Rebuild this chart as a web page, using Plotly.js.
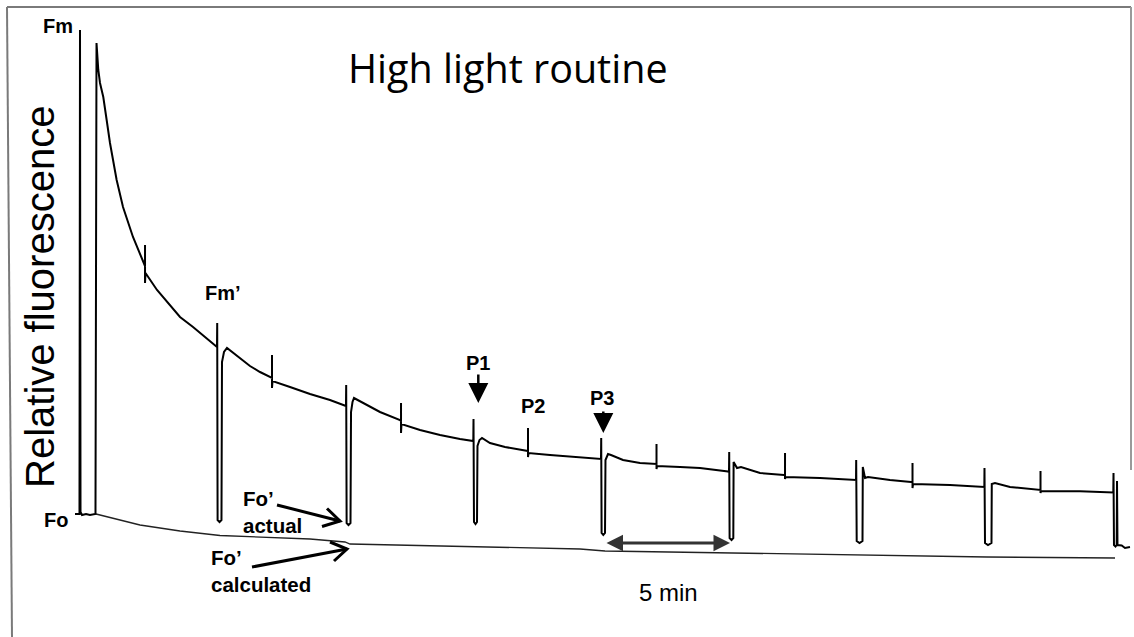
<!DOCTYPE html>
<html>
<head>
<meta charset="utf-8">
<script src="https://cdn.plot.ly/plotly-3.0.1.min.js"></script>
<style>html,body{margin:0;padding:0;background:#fff;}#chart{width:1134px;height:637px;}</style>
</head>
<body>
<div id="chart"></div>
<script>
// Fluorescence trace: time (s) and relative fluorescence (arbitrary units)
const traceTime = [
  -32.8, -22.3, -21.1, -19.9, -16.4, -7.0, 2.3, 15.2, 17.6, 21.8, 25.8, 33.5, 41.4, 49.2, 64.8, 79.7, 103.1, 126.6, 131.3, 131.3, 131.3, 132.4, 159.4, 189.8, 213.3, 243.8, 271.9, 297.7,
  300.0, 300.5, 301.4, 305.9, 310.5, 311.7, 316.4, 323.4,
  353.9, 377.3, 400.8, 426.6, 428.9, 428.9, 428.9, 430.1, 471.1, 518.0, 564.8, 600.0,
  602.3, 602.8, 603.8, 608.2, 612.9, 614.1, 617.6, 621.1,
  646.9, 682.0, 728.9, 731.3, 731.3, 731.3, 732.4, 775.8, 822.7, 869.5, 900.0,
  900.7, 901.2, 902.3, 905.9, 909.4, 910.5, 915.2, 921.1,
  939.8, 975.0, 1026.6, 1028.9, 1028.9, 1028.9, 1030.1, 1080.5, 1139.1, 1197.7,
  1200.0, 1200.5, 1201.4, 1205.4, 1209.4, 1210.5, 1216.4, 1223.4,
  1251.6, 1291.4, 1328.9, 1330.1, 1330.1, 1330.1, 1331.3, 1385.2, 1432.0, 1497.7,
  1500.0, 1500.5, 1501.4, 1505.9, 1510.1, 1510.8, 1518.8, 1528.1,
  1572.7, 1628.9, 1631.3, 1631.3, 1631.3, 1632.4, 1713.3, 1795.3,
  1797.7, 1798.1, 1799.3, 1805.9, 1812.9, 1813.6, 1818.8, 1825.8,
  1877.3, 1926.6, 1930.1, 1930.1, 1930.1, 1931.3, 2018.0, 2096.5,
  2098.4, 2098.8, 2100.0, 2107.0, 2115.2, 2115.9, 2123.4,
  2158.6, 2228.9, 2230.1, 2230.1, 2230.1, 2231.3, 2322.7, 2398.8,
  2400.7, 2401.2, 2402.3, 2405.9, 2408.7, 2409.4, 2410.5, 2420.4, 2428.1, 2439.8
];
const traceSignal = [
  86, 86, 570, 88, 85, 86, 85, 86, 557, 530, 517, 503, 480, 457, 420, 393, 363, 338, 334, 355, 317, 327, 310, 295, 283, 273, 263, 254,
  253, 277, 80, 78, 80, 238, 248, 252,
  242, 234, 228, 223, 222, 245, 212, 219, 213, 206, 200, 195,
  194, 215, 77, 75, 77, 188, 198, 202,
  196, 188, 180, 179, 197, 167, 176, 170, 165, 161, 159,
  159, 181, 78, 76, 78, 154, 160, 162,
  157, 153, 149, 149, 172, 143, 147, 145, 143, 141,
  141, 162, 67, 65, 67, 140, 146, 145,
  140, 137, 136, 136, 156, 131, 134, 133, 132, 128.5,
  128, 148, 62, 60, 62, 138, 132, 133,
  127, 125, 125, 147, 121, 123, 122, 120,
  120, 140, 59, 57, 59, 133, 122, 123,
  120, 118, 118, 137, 112, 116, 115, 113,
  113, 132, 57, 55, 57, 116, 117,
  113, 110, 110, 129, 107, 109, 108.7, 107.7,
  107.5, 127, 55, 53.5, 55, 119, 55, 54.5, 52, 53
];
// Calculated Fo' baseline
const calcTime = [16.4, 119.5, 213.3, 307.0, 518.0, 600.0, 611.7, 775.8, 916.4, 1150.8, 1209.4, 1502.3, 1760.2, 2104.7, 2404.7];
const calcSignal = [86, 75, 69, 64.5, 61, 58, 56, 54.5, 53, 51, 49, 47, 45, 43, 42];

const titleText = "High light routine";
const yLabel = "Relative fluorescence";

const W = 1134, H = 637;
const fx = x => x / W;
const fy = y => 1 - y / H;
const F = "Liberation Sans, Arial, sans-serif";

function txt(t, x, y, size, opts) {
  return Object.assign({
    text: t, xref: 'paper', yref: 'paper', x: fx(x), y: fy(y),
    xanchor: 'center', yanchor: 'middle', showarrow: false,
    font: {family: F, size: size, color: '#000'}
  }, opts || {});
}
function arrow(hx, hy, tx, ty, opts) {
  return Object.assign({
    text: '', xref: 'paper', yref: 'paper', x: fx(hx), y: fy(hy),
    ax: tx - hx, ay: ty - hy, showarrow: true, arrowhead: 2, arrowsize: 1.6,
    arrowwidth: 2.5, arrowcolor: '#000'
  }, opts || {});
}
function seg(x0, y0, x1, y1, color, w) {
  return {type: 'line', xref: 'paper', yref: 'paper', x0: fx(x0), y0: fy(y0), x1: fx(x1), y1: fy(y1),
    line: {color: color, width: w}};
}
function poly(pts, color, w) {
  const p = pts.map((q, i) => (i ? 'L' : 'M') + fx(q[0]) + ',' + fy(q[1])).join(' ');
  return {type: 'path', xref: 'paper', yref: 'paper', path: p, line: {color: color, width: w}};
}

const data = [
  {x: calcTime, y: calcSignal, mode: 'lines', line: {color: '#222', width: 1.3}, hoverinfo: 'skip'},
  {x: traceTime, y: traceSignal, mode: 'lines', line: {color: '#000', width: 2}, hoverinfo: 'skip'}
];

const layout = {
  width: W, height: H, autosize: false,
  margin: {l: 0, r: 0, t: 0, b: 0, pad: 0},
  paper_bgcolor: '#fff', plot_bgcolor: '#fff',
  showlegend: false,
  xaxis: {range: [-208.59375, 2449.21875], visible: false, fixedrange: true},
  yaxis: {range: [-37, 600], visible: false, fixedrange: true},
  shapes: [
    seg(7, 7, 1131, 7, '#7a7a7a', 2),
    seg(7, 7, 12, 637, '#7a7a7a', 2),
    seg(1131, 7, 1131, 470, '#9a9a9a', 2),
    seg(277, 505, 340, 521, '#000', 3),
    poly([[327, 508.5], [340, 521], [322, 526.5]], '#000', 3),
    seg(252, 567, 347, 549, '#000', 3),
    poly([[330, 542], [347, 549], [334, 561]], '#000', 3)
  ],
  annotations: [
    txt(titleText, 508, 68, 39.5, {font: {family: 'Open Sans, sans-serif', size: 39.5, color: '#000'}}),
    txt(yLabel, 40, 297, 40, {textangle: -90}),
    txt('<b>Fm</b>', 58, 26, 20),
    txt('<b>Fo</b>', 55.5, 519.5, 20),
    txt('<b>Fm’</b>', 223, 293, 20),
    txt('<b>P1</b>', 478, 363, 20),
    txt('<b>P2</b>', 533, 406, 20),
    txt('<b>P3</b>', 602, 398, 20),
    txt('<b>Fo’</b><br><b>actual</b>', 241, 512, 20.5, {xanchor: 'left', align: 'left'}),
    txt('<b>Fo’</b><br><b>calculated</b>', 209, 571, 20.5, {xanchor: 'left', align: 'left'}),
    txt('5 min', 668, 592, 24),
    arrow(478.3, 403, 478.3, 373),
    arrow(603.3, 433, 603.3, 410),
    arrow(730, 543, 605, 543, {arrowside: 'end+start', arrowcolor: '#333', arrowwidth: 3, arrowsize: 1.1})
  ]
};

Plotly.newPlot('chart', data, layout, {displayModeBar: false, staticPlot: true});
</script>
</body>
</html>
